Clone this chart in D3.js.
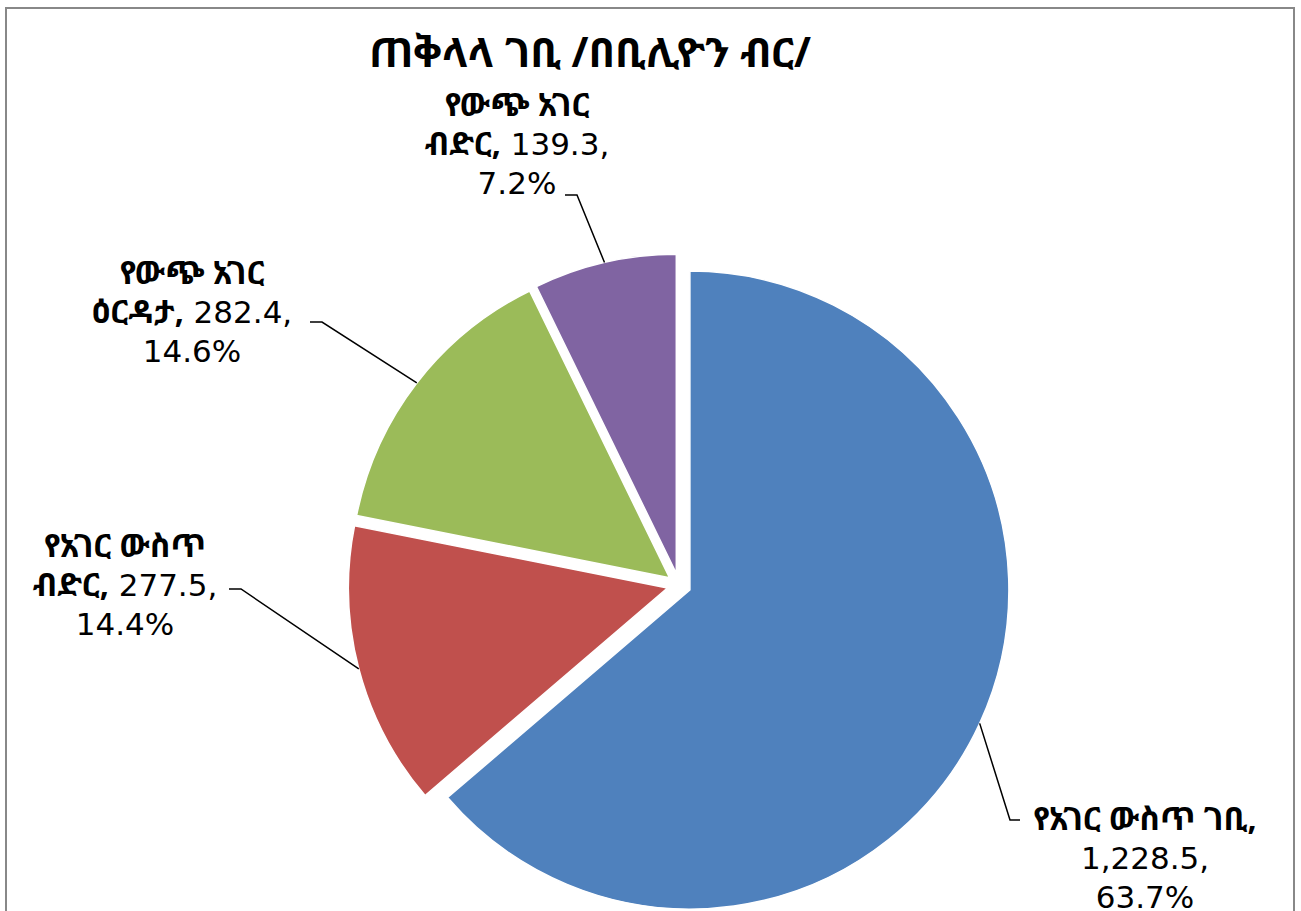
<!DOCTYPE html>
<html>
<head>
<meta charset="utf-8">
<script src="https://cdn.jsdelivr.net/npm/d3@7/dist/d3.min.js"></script>
<style>
  body { margin: 0; background: #fff; }
  text { font-family: "DejaVu Sans", Verdana, sans-serif; }
  .am { font-family: "Noto Sans Ethiopic", "Abyssinica SIL", "DejaVu Sans", sans-serif; font-weight: bold; }
</style>
</head>
<body>
<div id="chart"></div>
<script>
// data
const title = "ጠቅላላ ገቢ /በቢሊዮን ብር/";
const categories = ["የአገር ውስጥ ገቢ", "የአገር ውስጥ ብድር", "የውጭ አገር ዕርዳታ", "የውጭ አገር ብድር"];
const values = [1228.5, 277.5, 282.4, 139.3];
const colors = ["#4F81BD", "#C0504D", "#9BBB59", "#8064A2"];

// layout of the labels (words on first line, text centre, first baseline, leader elbow, leader end)
const wrapWords = [3, 2, 2, 2];
const labelX = [1145, 125, 192, 517];
const labelY = [830, 557, 284, 116];
const elbow = [[1010, 820], [241, 589], [322, 322], [577, 195]];
const tickEnd = [[1020, 820], [229, 589], [310, 322], [565, 195]];

const W = 1301, H = 911;
const cx = 679, cy = 585, radius = 319, explode = 12;
const lineH = 39;

const svg = d3.select('#chart').append('svg')
    .attr('width', W)
    .attr('height', H);

svg.append('rect')
    .attr('width', W).attr('height', H)
    .attr('fill', '#fff');

// frame
svg.append('rect')
    .attr('x', 6).attr('y', 8)
    .attr('width', 1288).attr('height', 1000)
    .attr('fill', 'none')
    .attr('stroke', '#888')
    .attr('stroke-width', 2);

svg.append('text')
    .attr('class', 'am')
    .attr('x', 590).attr('y', 67)
    .attr('text-anchor', 'middle')
    .style('font-size', '41px')
    .text(title);

const total = d3.sum(values);
const fmtVal = d3.format(',.1f');
const fmtPct = d3.format('.1%');

const pie = d3.pie().sort(null).value(d => d)(values);
const arc = d3.arc().innerRadius(0).outerRadius(radius);

const g = svg.append('g').attr('transform', `translate(${cx},${cy})`);

//每块扇形按中线方向外移
function offset(d) {
    const a = (d.startAngle + d.endAngle) / 2;
    return [Math.sin(a) * explode, -Math.cos(a) * explode];
}

g.selectAll('path.slice')
    .data(pie)
    .join('path')
    .attr('class', 'slice')
    .attr('d', arc)
    .attr('fill', (d, i) => colors[i])
    .attr('stroke', '#fff')
    .attr('stroke-width', 1.5)
    .attr('transform', d => `translate(${offset(d)})`);

// leader lines
pie.forEach((d, i) => {
    const a = (d.startAngle + d.endAngle) / 2;
    const o = offset(d);
    const sx = cx + o[0] + Math.sin(a) * radius;
    const sy = cy + o[1] - Math.cos(a) * radius;
    svg.append('polyline')
        .attr('points', `${sx},${sy} ${elbow[i][0]},${elbow[i][1]} ${tickEnd[i][0]},${tickEnd[i][1]}`)
        .attr('fill', 'none')
        .attr('stroke', '#000')
        .attr('stroke-width', 1.5);
});

// labels
categories.forEach((name, i) => {
    const words = name.split(' ');
    const first = words.slice(0, wrapWords[i]).join(' ');
    const rest = words.slice(wrapWords[i]).join(' ');
    const val = fmtVal(values[i]);
    const pct = fmtPct(values[i] / total);
    let lines;
    if (rest) {
        lines = [[[first, true]], [[rest + ',', true], [' ' + val + ',', false]], [[pct, false]]];
    } else {
        lines = [[[first + ',', true]], [[val + ',', false]], [[pct, false]]];
    }
    const t = svg.append('text')
        .attr('text-anchor', 'middle')
        .style('font-size', '31px')
        .attr('fill', '#000');
    lines.forEach((ln, j) => {
        ln.forEach((part, k) => {
            const ts = t.append('tspan').text(part[0]);
            if (part[1]) ts.attr('class', 'am').style('font-size', '32px');
            if (k === 0) ts.attr('x', labelX[i]).attr('y', labelY[i] + j * lineH);
        });
    });
});
</script>
</body>
</html>
